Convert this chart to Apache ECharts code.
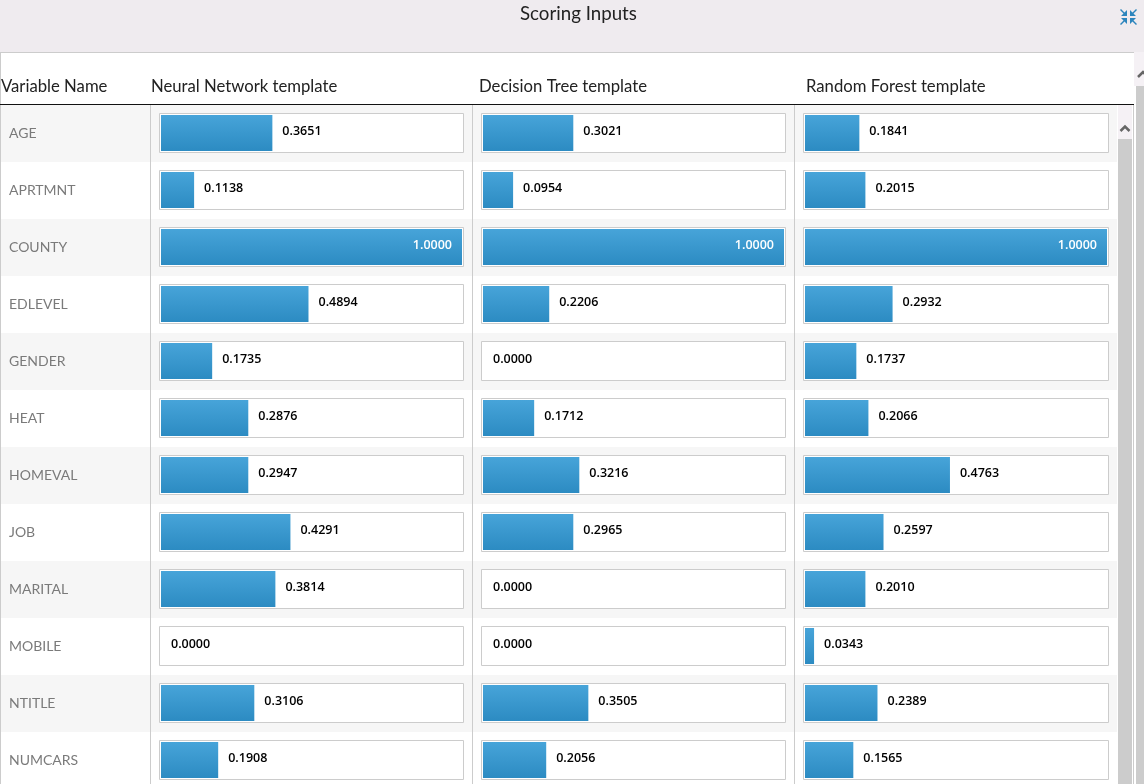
<!DOCTYPE html>
<html><head><meta charset="utf-8">
<style>html,body{margin:0;padding:0;background:#fff;overflow:hidden}#c{width:1144px;height:784px}</style>
<script src="https://cdn.jsdelivr.net/npm/echarts@6/dist/echarts.min.js"></script>
</head><body><div id="c"></div>
<script>
const variables = ['AGE','APRTMNT','COUNTY','EDLEVEL','GENDER','HEAT','HOMEVAL','JOB','MARITAL','MOBILE','NTITLE','NUMCARS'];
const neuralNetwork = [0.3651,0.1138,1.0000,0.4894,0.1735,0.2876,0.2947,0.4291,0.3814,0.0000,0.3106,0.1908];
const decisionTree = [0.3021,0.0954,1.0000,0.2206,0.0000,0.1712,0.3216,0.2965,0.0000,0.0000,0.3505,0.2056];
const randomForest = [0.1841,0.2015,1.0000,0.2932,0.1737,0.2066,0.4763,0.2597,0.2010,0.0343,0.2389,0.1565];
const columnTitles = ['Neural Network template','Decision Tree template','Random Forest template'];
const firstColumnTitle = 'Variable Name';
const chartTitle = 'Scoring Inputs';

const columns = [neuralNetwork, decisionTree, randomForest];
const gridLeft = [161, 483, 805];
const gridWidth = [301, 301, 302];
const headerX = [151, 479, 806];
const rowH = 57, tableTop = 105;
const UI = 'Lato, "Open Sans", sans-serif';

const grids = [{left:1, top:tableTop, width:1116, height:rowH*variables.length, outerBoundsMode:'none', containLabel:false}];
const xAxes = [{gridIndex:0, type:'value', min:0, max:1, show:false}];
const yAxes = [{gridIndex:0, type:'category', inverse:true, data:variables,
  axisLine:{show:false}, axisTick:{show:false}, splitLine:{show:false},
  splitArea:{show:true, interval:0, areaStyle:{color:['#f6f6f6','#ffffff']}},
  axisLabel:{inside:true, margin:8, interval:0, color:'#7a7a7a', fontFamily:UI, fontSize:14, verticalAlign:'middle'}}];
const series = [];

columns.forEach((vals,i)=>{
  const g = i+1;
  grids.push({left:gridLeft[i], top:tableTop-0.5, width:gridWidth[i], height:rowH*variables.length, outerBoundsMode:'none', containLabel:false});
  xAxes.push({gridIndex:g, type:'value', min:0, max:1, show:false});
  yAxes.push({gridIndex:g, type:'category', inverse:true, data:variables, show:false});
  // outlined track behind each bar, spanning the whole 0..1 scale
  series.push({type:'custom', xAxisIndex:g, yAxisIndex:g, silent:true, z:1, clip:false,
    data: vals.map((v,k)=>[v,k]),
    encode:{x:0,y:1},
    renderItem:(p,api)=>{
      const a = api.coord([0,api.value(1)]), b = api.coord([1,api.value(1)]);
      return {type:'rect', shape:{x:Math.round(a[0])-1.5, y:Math.round(a[1])-19.5, width:Math.round(b[0]-a[0])+3, height:39},
        style:{fill:'#fff', stroke:'#cccccc', lineWidth:1}};
    }});
  // the original page sizes each bar to a whole percent while its label shows four decimals
  series.push({type:'bar', xAxisIndex:g, yAxisIndex:g, barWidth:36, z:2,
    silent:true, animation:false,
    itemStyle:{color:{type:'linear',x:0,y:0,x2:0,y2:1,colorStops:[{offset:0,color:'#47a4d9'},{offset:1,color:'#2c8bc2'}]}},
    label:{show:true, position:'right', distance:10, offset:[0,-2], color:'#000', fontFamily:'"Open Sans", sans-serif', fontWeight:600, fontSize:12.5,
      formatter:p=>vals[p.dataIndex].toFixed(4)},
    data: vals.map(v=> {
      const pct = Math.round(v*100)/100;
      return v>=1 ? {value:pct, label:{position:'insideRight', color:'#fff'}} : pct;
    })});
});

const bar = (x,y,w,h,fill,z) => ({type:'rect', shape:{x,y,width:w,height:h}, style:{fill}, z:z===undefined?10:z, silent:true});
const iconArrow = [[1127,16],[1121,16],[1123.5,13.5],[1120,10],[1121,9],[1124.5,12.5],[1127,10]];
const iconParts = [[0,0],[1,0],[0,1],[1,1]].map(([mx,my])=>({type:'polygon', z:11, silent:true,
  shape:{points:iconArrow.map(([x,y])=>[mx?2257-x:x, my?34-y:y])}, style:{fill:'#2c85bd'}}));
const chrome = [
  bar(0,0,1144,52,'#efebef',-10),
  bar(1134,52,10,34,'#f5f1f5',-10),
  bar(0,52,1134,1,'#cccccc'),
  bar(0,52,1,732,'#cccccc'),
  bar(0,104,1134,1,'#111111'),
  bar(150,105,1,679,'#cccccc'),
  bar(472,105,1,679,'#cccccc'),
  bar(794,105,1,679,'#cccccc'),
  bar(1118,105,14,34,'#f5f1f5',9),
  bar(1118,139,14,645,'#cccccc'),
  bar(1133,105,1,679,'#cccccc'),
  bar(1136,86,8,698,'#cccccc'),
  {type:'polyline', shape:{points:[[1120.5,131],[1125,126.5],[1129.5,131]]}, style:{stroke:'#666',lineWidth:2.5,fill:null}, z:11, silent:true},
  {type:'polyline', shape:{points:[[1138,77],[1143,72],[1148,77]]}, style:{stroke:'#666',lineWidth:2.5,fill:null}, z:11, silent:true},
  ...iconParts,
  {type:'text', x:1, y:87, silent:true, z:11, style:{text:firstColumnTitle, fill:'#222', font:'16.7px '+UI, verticalAlign:'middle'}}
];
columnTitles.forEach((t,i)=>chrome.push({type:'text', x:headerX[i], y:87, silent:true, z:11,
  style:{text:t, fill:'#222', font:'16.7px '+UI, verticalAlign:'middle'}}));

const chart = echarts.init(document.getElementById('c'), null, {renderer:'canvas'});
chart.setOption({
  animation:false, backgroundColor:'#fff',
  title:{text:chartTitle, left:520, top:4, padding:0, textStyle:{color:'#222', fontFamily:UI, fontWeight:'normal', fontSize:18.7}},
  tooltip:{show:false},
  grid:grids, xAxis:xAxes, yAxis:yAxes, series, graphic:chrome
});
</script></body></html>
